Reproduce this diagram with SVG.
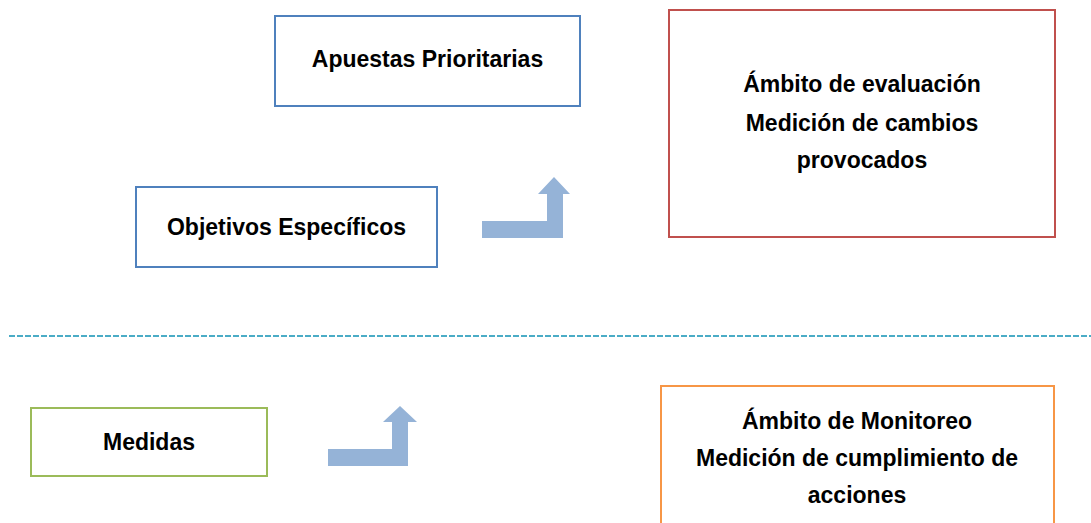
<svg xmlns="http://www.w3.org/2000/svg" width="1091" height="523" viewBox="0 0 1091 523">
<style>
.box{fill:#fff;stroke-width:2}
.t{font-family:"Liberation Sans",Arial,sans-serif;font-weight:bold;font-size:23px;fill:#000;text-anchor:middle}
.arrow{fill:#95B3D7}
</style>
<defs>
<filter id="blur" x="-5%" y="-200%" width="110%" height="500%"><feGaussianBlur stdDeviation="2"/></filter>
</defs>
<rect width="1091" height="523" fill="#fff"/>
<g id="separator">
<line x1="9" y1="341" x2="1091" y2="341" stroke="#c8c8c8" stroke-width="5" filter="url(#blur)"/>
<line x1="9" y1="336" x2="1091" y2="336" stroke="#4BACC6" stroke-width="2" stroke-dasharray="6 2"/>
</g>
<g id="apuestas">
<rect class="box" x="275" y="16" width="305" height="90" stroke="#4F81BD"/>
<text class="t" x="427.5" y="67">Apuestas Prioritarias</text>
</g>
<g id="objetivos">
<rect class="box" x="136" y="187" width="301" height="80" stroke="#4F81BD"/>
<text class="t" x="286.5" y="235">Objetivos Específicos</text>
</g>
<g id="evaluacion">
<rect class="box" x="669" y="10" width="386" height="227" stroke="#C0504D"/>
<text class="t" x="862" y="92">Ámbito de evaluación</text>
<text class="t" x="862" y="131">Medición de cambios</text>
<text class="t" x="862" y="168">provocados</text>
</g>
<g id="medidas">
<rect class="box" x="31" y="408" width="236" height="68" stroke="#9BBB59"/>
<text class="t" x="149" y="450">Medidas</text>
</g>
<g id="monitoreo">
<rect class="box" x="661" y="386" width="393" height="150" stroke="#F79646"/>
<text class="t" x="857" y="429">Ámbito de Monitoreo</text>
<text class="t" x="857" y="466">Medición de cumplimiento de</text>
<text class="t" x="857" y="503">acciones</text>
</g>
<g id="connectors">
<path class="arrow" d="M482 221 H547 V194 H538 L554 177 L570 194 H563 V238 H482 Z"/>
<path class="arrow" d="M328 449 H392 V422 H383 L400 406 L417 422 H408 V466 H328 Z"/>
</g>
</svg>
